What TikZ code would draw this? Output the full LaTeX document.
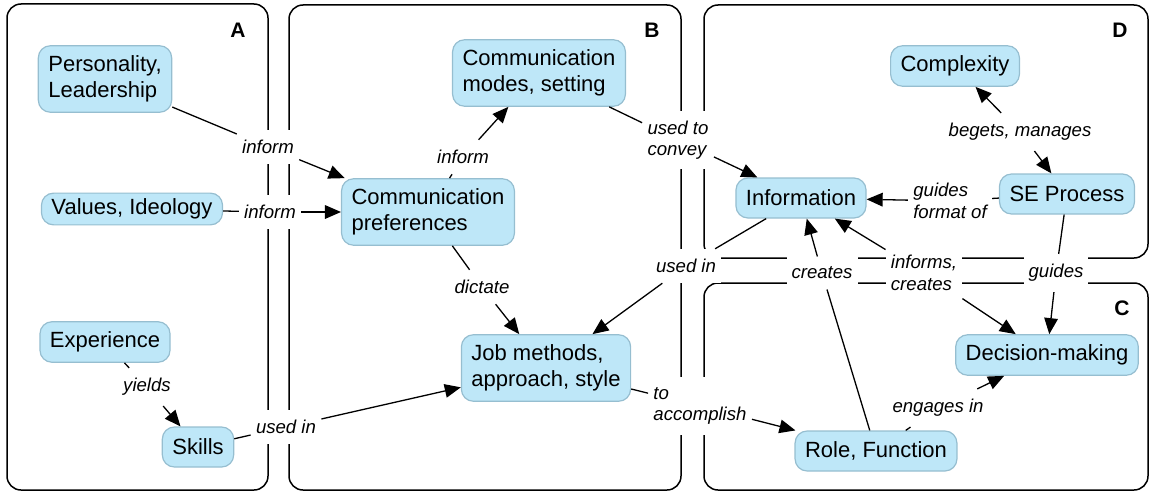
\documentclass[tikz,border=0pt]{standalone}
\usepackage{fontspec}
\setmainfont{Liberation Sans}
\usetikzlibrary{arrows.meta}
\definecolor{conceptfill}{RGB}{190,231,248}
\definecolor{conceptline}{RGB}{150,190,208}

\begin{document}
\begin{tikzpicture}[x=0.5pt,y=-0.5pt,
  concept/.style={draw=conceptline,fill=conceptfill,line width=0.6pt,rounded corners=6pt,
    align=left,inner xsep=5pt,inner ysep=5pt,minimum height=20pt,font=\fontsize{11}{13}\selectfont},
  link/.style={fill=white,align=left,inner xsep=2.5pt,inner ysep=5pt,
    font=\fontsize{9.3}{10.8}\selectfont\itshape},
  panel/.style={draw,line width=0.75pt,rounded corners=7pt},
  tag/.style={font=\fontsize{10.5}{12}\selectfont\bfseries},
  conn/.style={line width=0.65pt},
  arr/.style={conn,-{Triangle[length=8pt,width=6.8pt]}}]
\useasboundingbox (0,0) rectangle (1150,492);
% panels
\draw[panel] (7,4) rectangle (268,490);
\draw[panel] (289,5) rectangle (681,490);
\draw[panel] (704,5) rectangle (1148,258);
\draw[panel] (704,283) rectangle (1148,490);
\node[tag] (tagA) at (238,30) {A};
\node[tag] (tagB) at (652,30) {B};
\node[tag] (tagD) at (1120,30) {D};
\node[tag] (tagC) at (1122,308) {C};
% concepts
\node[concept] (pers) at (105,79) {Personality,\\Leadership};
\node[concept,minimum height=0pt,inner ysep=2.8pt] (vals) at (132,209) {Values, Ideology};
\node[concept] (exp) at (105,342) {Experience};
\node[concept] (skills) at (198,447) {Skills};
\node[concept] (pref) at (428,212) {Communication\\preferences};
\node[concept] (modes) at (539,73) {Communication\\modes, setting};
\node[concept] (job) at (546,368) {Job methods,\\approach, style};
\node[concept] (info) at (801,198) {Information};
\node[concept] (cplx) at (955,66) {Complexity};
\node[concept] (se) at (1067,194) {SE Process};
\node[concept] (dec) at (1047,355) {Decision-making};
\node[concept] (role) at (876,451) {Role, Function};
% linking phrases
\node[link] (inf1) at (268,147) {inform};
\node[link] (inf2) at (270,212) {inform};
\node[link] (inf3) at (463,157) {inform};
\node[link] (conv) at (678,140) {used to\\convey};
\node[link] (dict) at (482,287) {dictate};
\node[link] (use1) at (686,266) {used in};
\node[link] (yld) at (147,387) {yields};
\node[link] (use2) at (286,427) {used in};
\node[link] (acc) at (700,406) {to\\accomplish};
\node[link] (crt) at (822,273) {creates};
\node[link] (infc) at (924,273) {informs,\\creates};
\node[link] (gds) at (1056,273) {guides};
\node[link] (eng) at (938,408) {engages in};
\node[link] (bgt) at (1020,132) {begets, manages};
\node[link] (fmt) at (950,201) {guides\\format of};
% connectors
\foreach \a/\l/\b in {pers/inf1/pref, vals/inf2/pref, pref/inf3/modes, modes/conv/info,
    pref/dict/job, info/use1/job, exp/yld/skills, skills/use2/job, job/acc/role,
    role/crt/info, se/gds/dec, role/eng/dec, se/fmt/info}
  {\draw[conn] (\a) -- (\l); \draw[arr] (\l) -- (\b);}
\draw[arr] (infc) -- (info);
\draw[arr] (infc) -- (dec);
\draw[arr] (bgt) -- (cplx);
\draw[arr] (bgt) -- (se);
\end{tikzpicture}
\end{document}
